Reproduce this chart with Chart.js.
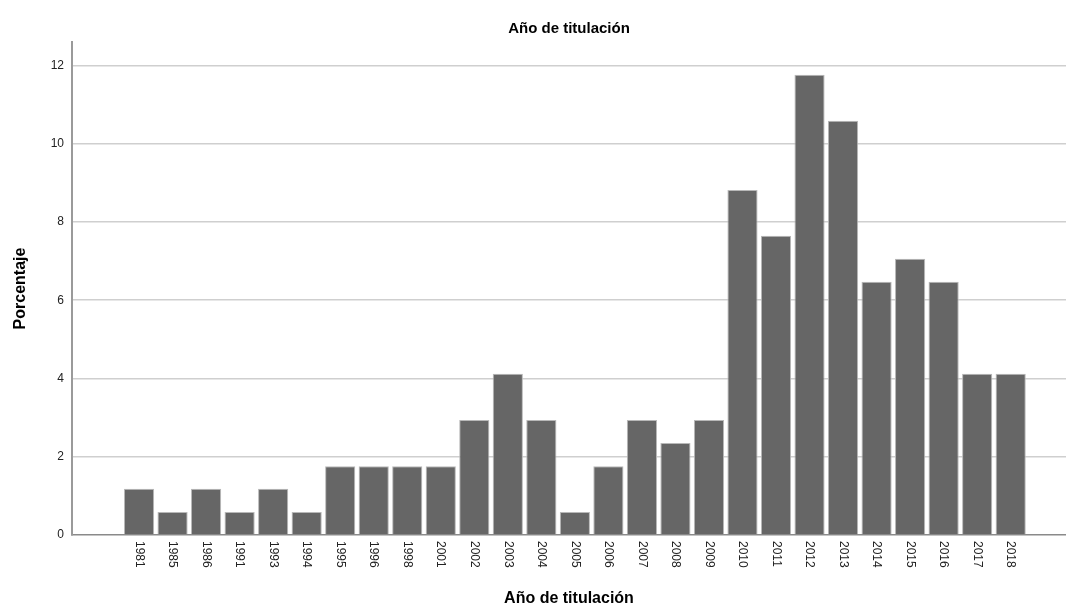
<!DOCTYPE html>
<html>
<head>
<meta charset="utf-8">
<script src="https://cdn.jsdelivr.net/npm/chart.js@4"></script>
<style>
  html, body { margin: 0; padding: 0; background: #fff; }
  #wrap { width: 1066px; height: 610px; }
</style>
</head>
<body>
<div id="wrap"><canvas id="myChart"></canvas></div>
<script>
const ctx = document.getElementById('myChart');

// años y porcentaje
const anios = ['1981', '1985', '1986', '1991', '1993', '1994', '1995', '1996', '1998', '2001',
  '2002', '2003', '2004', '2005', '2006', '2007', '2008', '2009', '2010', '2011',
  '2012', '2013', '2014', '2015', '2016', '2017', '2018'];
const porcentaje = [1.18, 0.59, 1.18, 0.59, 1.18, 0.59, 1.76, 1.76, 1.76, 1.76,
  2.94, 4.12, 2.94, 0.59, 1.76, 2.94, 2.35, 2.94, 8.82, 7.65,
  11.76, 10.59, 6.47, 7.06, 6.47, 4.12, 4.12];
const yTicks = [0, 2, 4, 6, 8, 10, 12];

const FONT = '"Liberation Sans", Arial, sans-serif';

var puntos = [];
for (var i = 0; i < anios.length; i++) {
  puntos.push({ x: i, y: porcentaje[i] });
}

// etiquetas del eje x giradas 90 grados (sentido horario)
const etiquetasX = {
  id: 'etiquetasX',
  afterDraw(chart) {
    const c = chart.ctx;
    const x = chart.scales.x;
    c.save();
    c.font = '12px ' + FONT;
    c.fillStyle = '#222';
    c.textAlign = 'left';
    c.textBaseline = 'middle';
    for (var i = 0; i < anios.length; i++) {
      const px = x.getPixelForValue(i);
      c.save();
      c.translate(px, x.top + 6);
      c.rotate(Math.PI / 2);
      c.fillText(anios[i], 0, 0);
      c.restore();
    }
    c.restore();
  }
};

const chart = new Chart(ctx, {
  type: 'bar',
  data: {
    datasets: [{
      label: 'Porcentaje',
      data: puntos,
      backgroundColor: '#666666',
      borderColor: '#b8b8b8',
      borderWidth: 1,
      barPercentage: 0.9,
      categoryPercentage: 1
    }]
  },
  plugins: [etiquetasX],
  options: {
    responsive: true,
    maintainAspectRatio: false,
    animation: false,
    layout: { padding: { top: 0, right: 0, bottom: 0, left: 0 } },
    plugins: {
      legend: { display: false },
      tooltip: { enabled: false },
      title: {
        display: true,
        fullSize: false,
        text: 'Año de titulación',
        color: '#000',
        font: { family: FONT, size: 15, weight: 'bold' },
        padding: { top: 20, bottom: 4 }
      }
    },
    scales: {
      x: {
        type: 'linear',
        offset: false,
        min: -2,
        max: 27.65,
        grid: { display: false },
        border: { display: true, color: '#8a8a8a', width: 1.5 },
        ticks: { display: false },
        title: {
          display: true,
          text: 'Año de titulación',
          color: '#000',
          font: { family: FONT, size: 16, weight: 'bold' },
          padding: { top: 0, bottom: 2 }
        },
        afterFit: (s) => { s.height = 75; }
      },
      y: {
        min: 0,
        max: 12.6,
        afterBuildTicks: (s) => { s.ticks = yTicks.map(v => ({ value: v })); },
        grid: {
          color: (c) => (c.tick && c.tick.value === 0) ? 'rgba(0,0,0,0)' : '#cfcfcf',
          lineWidth: 1.5,
          drawTicks: false
        },
        border: { display: true, color: '#9a9a9a', width: 2 },
        ticks: {
          color: '#222',
          padding: 8,
          font: { family: FONT, size: 12 }
        },
        title: {
          display: true,
          text: 'Porcentaje',
          color: '#000',
          font: { family: FONT, size: 16, weight: 'bold' },
          padding: { top: 11, bottom: 0 }
        },
        afterFit: (s) => { s.width = 72; }
      }
    }
  }
});
</script>
</body>
</html>
